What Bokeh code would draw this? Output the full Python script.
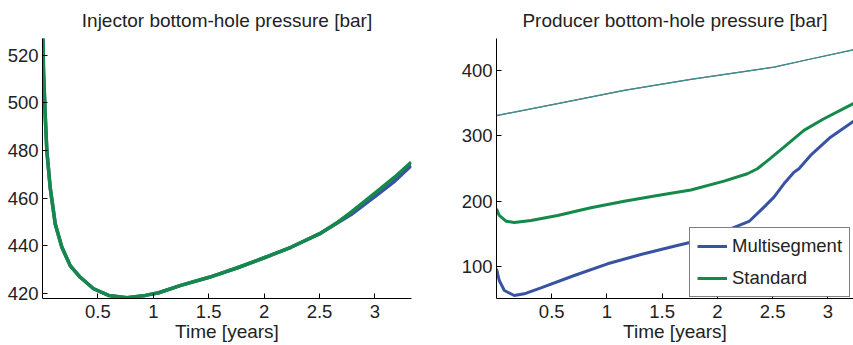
from bokeh.plotting import figure
from bokeh.layouts import row
from bokeh.models import (Range1d, FixedTicker, NumeralTickFormatter, Legend,
                          LegendItem)
from bokeh.embed import file_html
from bokeh.resources import INLINE

# Injector bottom-hole pressure [bar] vs time [years]
inj_t = [0.0, 0.009, 0.024, 0.039, 0.069, 0.115, 0.175, 0.25, 0.341, 0.461,
         0.597, 0.762, 0.928, 1.049, 1.248, 1.504, 1.76, 2.001, 2.242, 2.498,
         2.664, 2.785, 3.011, 3.177, 3.327]
inj_std = [535.0, 513.5, 495.3, 480.0, 464.6, 449.2, 439.4, 431.7, 426.8,
           422.0, 419.2, 418.2, 419.2, 420.3, 423.4, 426.8, 430.8, 435.0,
           439.4, 445.0, 449.9, 454.1, 462.5, 468.8, 475.1]
inj_ms = [535.0, 513.5, 495.3, 480.0, 464.6, 449.2, 439.4, 431.7, 426.8,
          422.0, 419.2, 418.2, 419.2, 420.3, 423.4, 426.8, 430.8, 435.0,
          439.4, 445.0, 449.7, 453.1, 461.1, 467.1, 473.7]

# Producer bottom-hole pressure [bar]
prod_t_std = [0.0, 0.025, 0.086, 0.161, 0.312, 0.553, 0.854, 1.156, 1.457,
              1.759, 2.06, 2.271, 2.362, 2.482, 2.602, 2.783, 2.964, 3.23,
              3.33]
prod_std = [188.4, 178.1, 169.4, 167.4, 170.4, 178.1, 189.9, 200.0, 208.7,
            217.0, 230.6, 242.0, 249.6, 265.9, 282.7, 308.3, 326.2, 349.2,
            356.0]
prod_t_ms = [0.0, 0.025, 0.071, 0.161, 0.251, 0.402, 0.704, 1.005, 1.307,
             1.608, 1.759, 1.95, 2.136, 2.286, 2.391, 2.512, 2.602, 2.693,
             2.738, 2.843, 3.024, 3.23, 3.33]
prod_ms = [96.5, 78.6, 63.2, 55.6, 58.2, 67.4, 86.2, 104.1, 118.4, 131.1,
           137.2, 146.0, 158.7, 168.9, 185.8, 206.1, 226.6, 244.4, 249.6,
           270.0, 298.0, 322.0, 330.0]

# Thin upper curve on the producer panel (both cases overlap)
thin_t = [0.0, 0.553, 1.156, 1.759, 2.512, 2.814, 3.23, 3.33]
thin_p = [331.0, 349.2, 369.5, 386.4, 405.2, 416.5, 431.8, 436.0]

x_ticks = [0.5, 1, 1.5, 2, 2.5, 3]
inj_y_ticks = [420, 440, 460, 480, 500, 520]
prod_y_ticks = [100, 200, 300, 400]

BLUE = "#3953a4"
GREEN = "#14894a"
FONT = "Liberation Sans"
FS = "18.5px"
TXT = "#222222"


def style(p, yticks):
    p.grid.visible = False
    p.outline_line_color = None
    p.xaxis.ticker = FixedTicker(ticks=x_ticks)
    p.yaxis.ticker = FixedTicker(ticks=yticks)
    p.xaxis.formatter = NumeralTickFormatter(format="0.[0]")
    for ax in (p.xaxis[0], p.yaxis[0]):
        ax.axis_line_color = "black"
        ax.axis_line_width = 1
        ax.major_tick_in = 5
        ax.major_tick_out = 0
        ax.major_tick_line_color = "black"
        ax.minor_tick_line_color = None
        ax.major_label_text_font = FONT
        ax.major_label_text_font_size = FS
        ax.major_label_text_color = TXT
        ax.axis_label_text_font = FONT
        ax.axis_label_text_font_size = "19px"
        ax.axis_label_text_font_style = "normal"
        ax.axis_label_text_color = TXT
    p.xaxis.major_label_standoff = 6
    p.yaxis.major_label_standoff = 4
    p.xaxis.axis_label = "Time [years]"
    p.xaxis.axis_label_standoff = 0
    p.title.text_font = FONT
    p.title.text_font_size = "19px"
    p.title.text_font_style = "normal"
    p.title.text_color = TXT
    p.title.align = "center"
    p.title.standoff = 15


left = figure(width=430, height=345, output_backend="svg", toolbar_location=None,
              x_range=Range1d(0, 3.33), y_range=Range1d(417.9, 527),
              title="Injector bottom-hole pressure [bar]",
              min_border_left=42, min_border_right=19,
              min_border_top=38, min_border_bottom=47)
left.line(inj_t, inj_ms, line_color=BLUE, line_width=3.5)
left.line(inj_t, inj_std, line_color=GREEN, line_width=3.5)
style(left, inj_y_ticks)

right = figure(width=423, height=345, output_backend="svg", toolbar_location=None,
               x_range=Range1d(0, 3.232), y_range=Range1d(51, 449),
               title="Producer bottom-hole pressure [bar]",
               min_border_left=66, min_border_right=0,
               min_border_top=38, min_border_bottom=47)
right.line(thin_t, thin_p, line_color=BLUE, line_width=1.2)
right.line(thin_t, thin_p, line_color="#3f9a7a", line_width=1.2, line_alpha=0.85)
r_ms = right.line(prod_t_ms, prod_ms, line_color=BLUE, line_width=3)
r_std = right.line(prod_t_std, prod_std, line_color=GREEN, line_width=3)
style(right, prod_y_ticks)

legend = Legend(items=[LegendItem(label="Multisegment", renderers=[r_ms]),
                       LegendItem(label="Standard", renderers=[r_std])],
                location=(193, 1), orientation="vertical",
                border_line_color="black", border_line_width=1.5,
                background_fill_color="white", background_fill_alpha=1,
                label_text_font=FONT, label_text_font_size=FS,
                label_text_color=TXT, glyph_width=30, glyph_height=20,
                label_height=20, label_standoff=5, spacing=10, padding=7,
                margin=0)
right.add_layout(legend, "center")

page = row(left, right)
open("out.html", "w").write(file_html(page, INLINE))
